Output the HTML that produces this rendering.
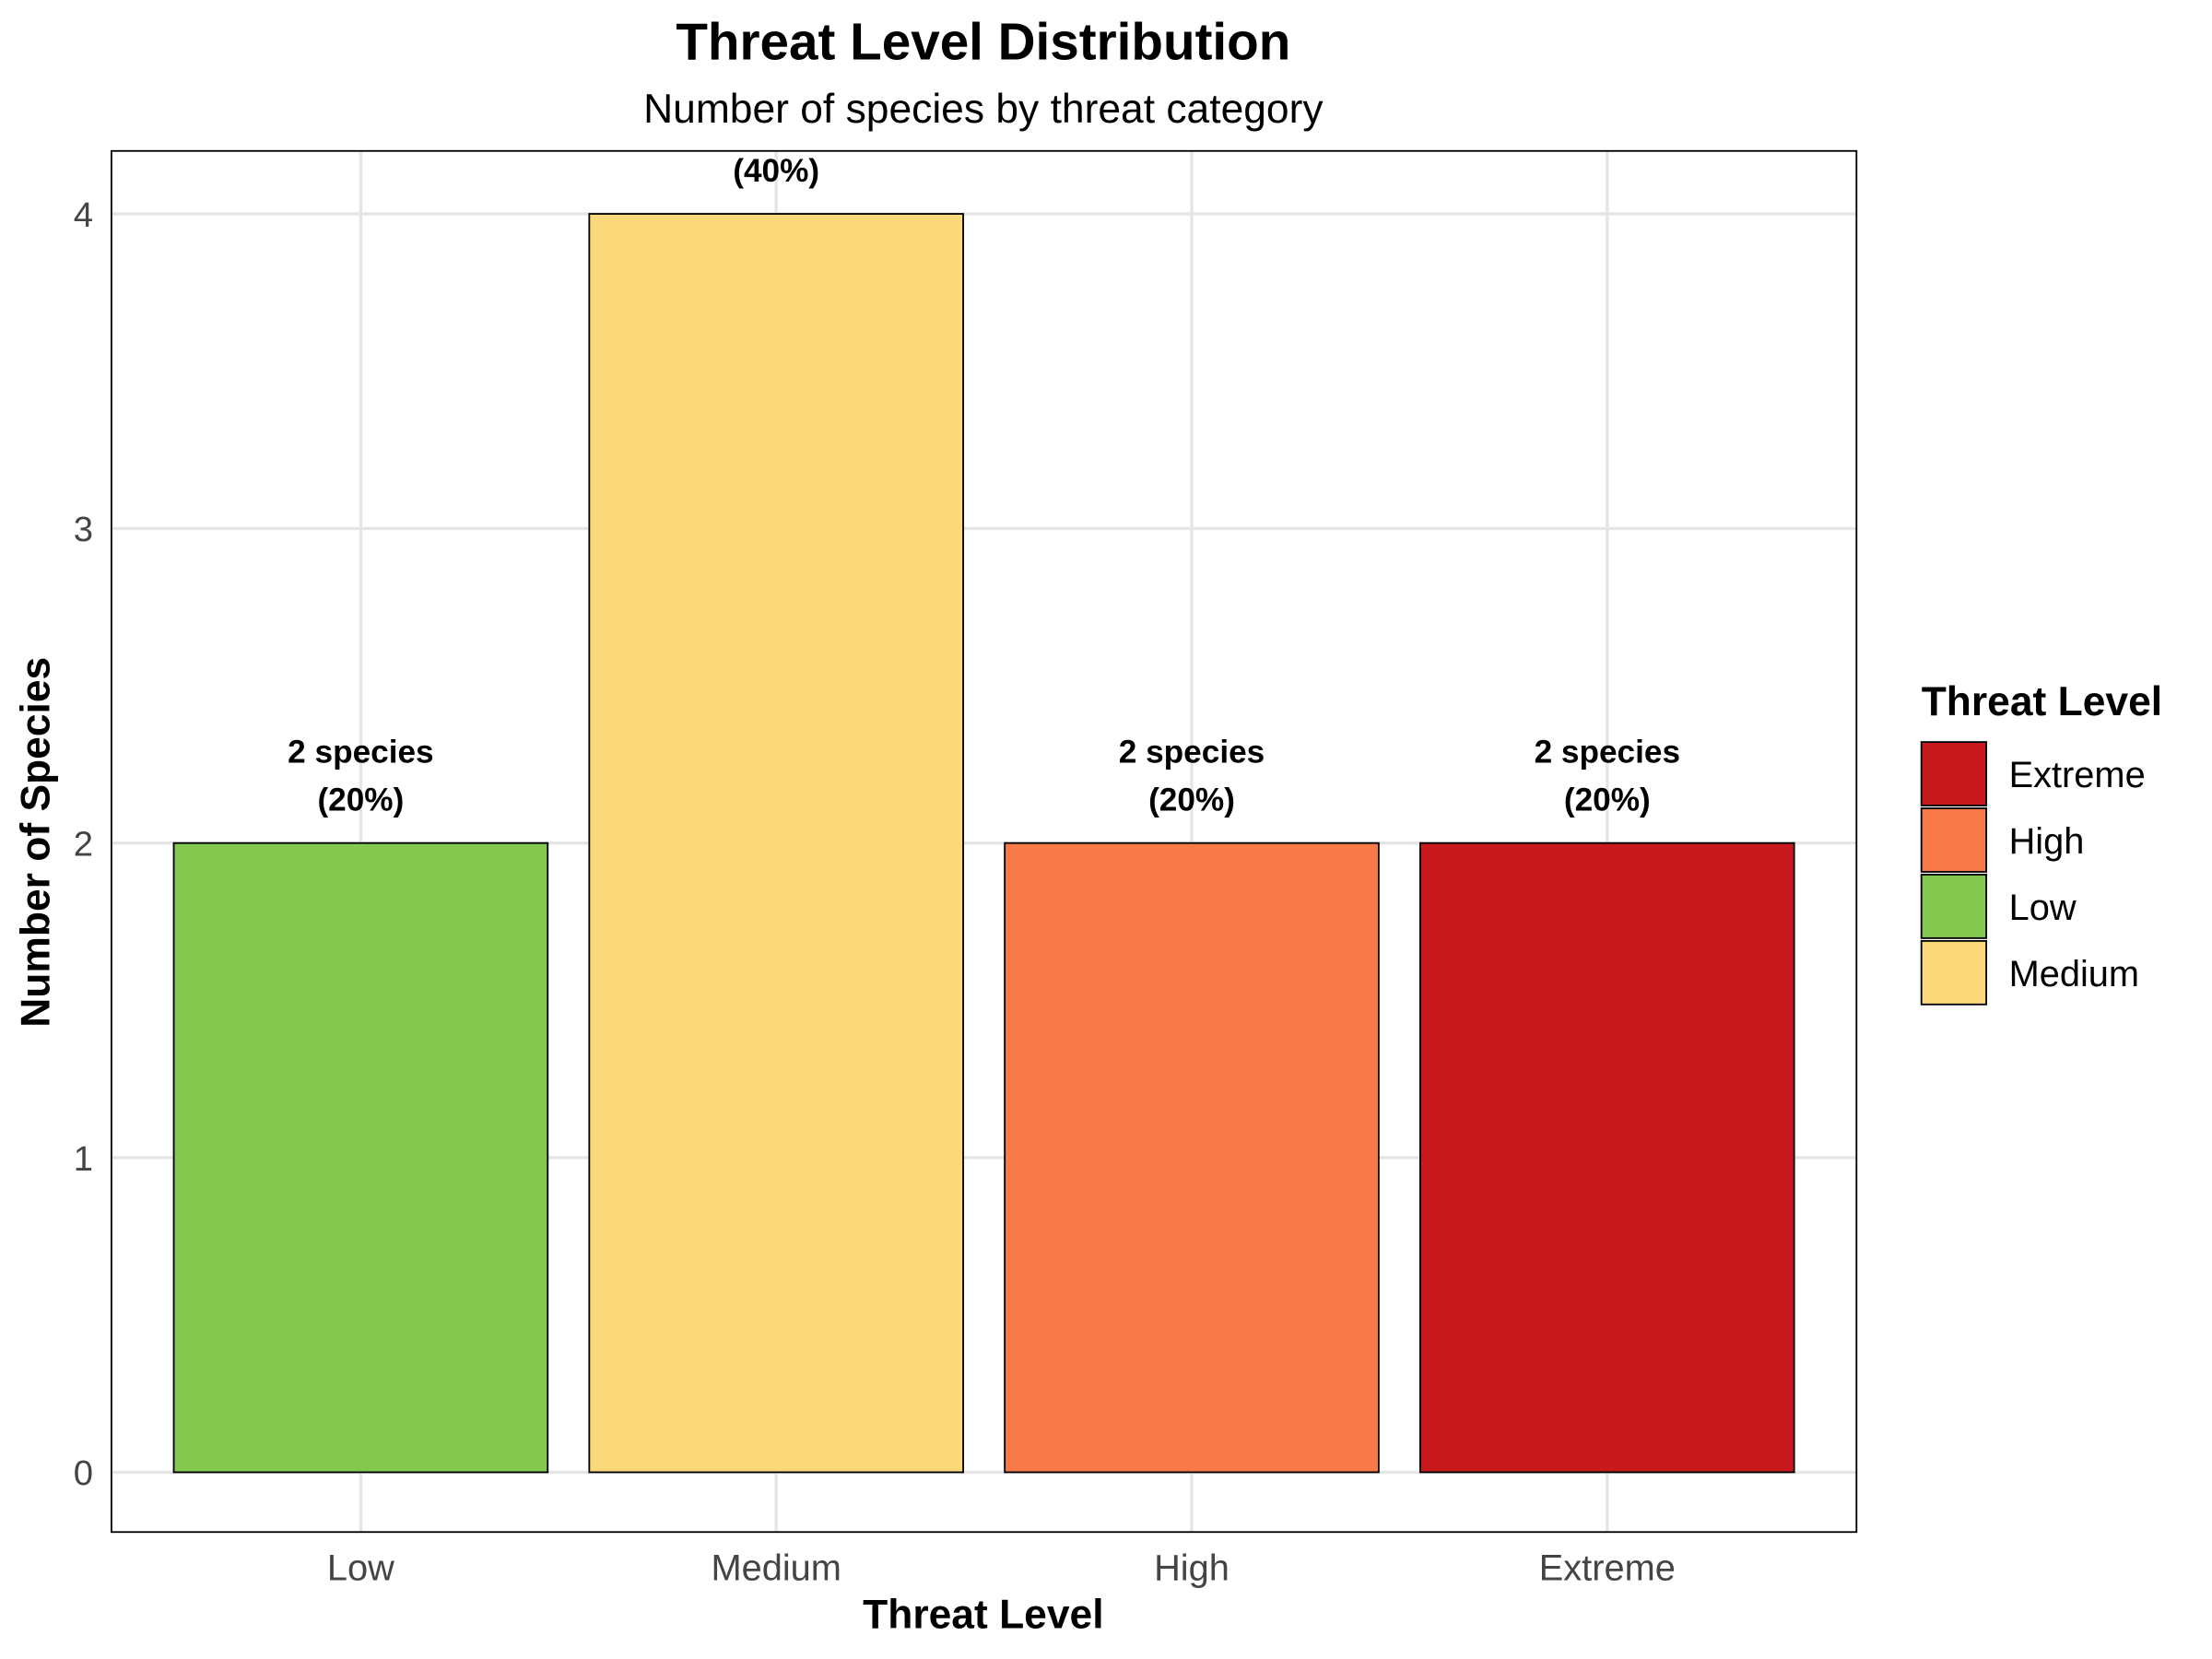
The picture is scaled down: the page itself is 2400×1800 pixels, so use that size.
<!DOCTYPE html>
<html><head><meta charset="utf-8"><style>
html,body{margin:0;padding:0;background:#fff;}
svg{display:block;font-family:"Liberation Sans",Arial,sans-serif;}
</style></head><body>
<svg id="chart" width="2400" height="1800" viewBox="0 0 1568 1176" xmlns="http://www.w3.org/2000/svg">
<defs><clipPath id="pc"><rect x="79" y="107" width="1237" height="979"/></clipPath></defs>
<rect width="1568" height="1176" fill="#fff"/>
<text x="697" y="42" text-anchor="middle" font-size="37" font-weight="bold">Threat Level Distribution</text>
<text x="697" y="87" text-anchor="middle" font-size="29">Number of species by threat category</text>
<g id="grid"></g>
<g id="bars" clip-path="url(#pc)"></g>
<rect x="79" y="107" width="1237" height="979" fill="none" stroke="#000" stroke-width="1.2"/>
<g id="axes"></g>
<text x="697" y="1154" text-anchor="middle" font-size="29" font-weight="bold">Threat Level</text>
<text transform="translate(35,597) rotate(-90)" text-anchor="middle" font-size="29" font-weight="bold">Number of Species</text>
<g id="legend">
<text x="1362" y="507" font-size="29" font-weight="bold">Threat Level</text>
</g>
</svg>
<script>
const categories = ["Low","Medium","High","Extreme"];
const counts = [2,4,2,2];
const percents = ["20%","40%","20%","20%"];
const colors = ["#84c84f","#fbd97a","#f77a48","#c8191e"];
const legendLabels = ["Extreme","High","Low","Medium"];
const legendColors = ["#c8191e","#f77a48","#84c84f","#fbd97a"];
const yTicks = [0,1,2,3,4];

const NS="http://www.w3.org/2000/svg";
const px0=79, px1=1316, py0=107, py1=1086;
const yMin=-0.19, yMax=4.2;
function yScale(v){return py1-(v-yMin)/(yMax-yMin)*(py1-py0);}
const band=(px1-px0)/(categories.length+0.2);
function xScale(i){return px0+band*0.6+i*band;}
function mk(tag,attrs,parent,txt){const e=document.createElementNS(NS,tag);for(const k in attrs)e.setAttribute(k,attrs[k]);if(txt!==undefined)e.textContent=txt;parent.appendChild(e);return e;}
const grid=document.getElementById('grid'),bars=document.getElementById('bars'),axes=document.getElementById('axes'),leg=document.getElementById('legend');
yTicks.forEach(t=>{
  const y=yScale(t);
  const l=mk('line',{x1:px0,x2:px1,y1:y,y2:y,stroke:'#e5e5e5','stroke-width':2.2},grid);
  
  
  const tx=mk('text',{x:px0-13,y:y+9,'text-anchor':'end','font-size':25,fill:'#444'},axes,String(t));
  
  
});
categories.forEach((c,i)=>{
  const x=xScale(i);
  const l=mk('line',{x1:x,x2:x,y1:py0,y2:py1,stroke:'#e5e5e5','stroke-width':2.2},grid);
  
  
  const w=band*0.9, top=yScale(counts[i]), base=yScale(0);
  const r=mk('rect',{x:x-w/2,y:top,width:w,height:base-top,fill:colors[i],stroke:'#000','stroke-width':1.2},bars);
  
  
  const t1=mk('text',{x:x,y:top-57,'text-anchor':'middle','font-size':23,'font-weight':'bold'},bars,counts[i]+' species');
  
  
  const t2=mk('text',{x:x,y:top-23,'text-anchor':'middle','font-size':23,'font-weight':'bold'},bars,'('+percents[i]+')');
  
  
  const xl=mk('text',{x:x,y:1120,'text-anchor':'middle','font-size':26,fill:'#444'},axes,c);
  
  
});
legendLabels.forEach((lab,i)=>{
  const y=526+i*47;
  const k=mk('rect',{x:1362,y:y,width:46,height:45,fill:legendColors[i],stroke:'#000','stroke-width':1.2},leg);
  
  
  const t=mk('text',{x:1424,y:y+32,'font-size':26},leg,lab);
  
  
});
</script>
</body></html>
